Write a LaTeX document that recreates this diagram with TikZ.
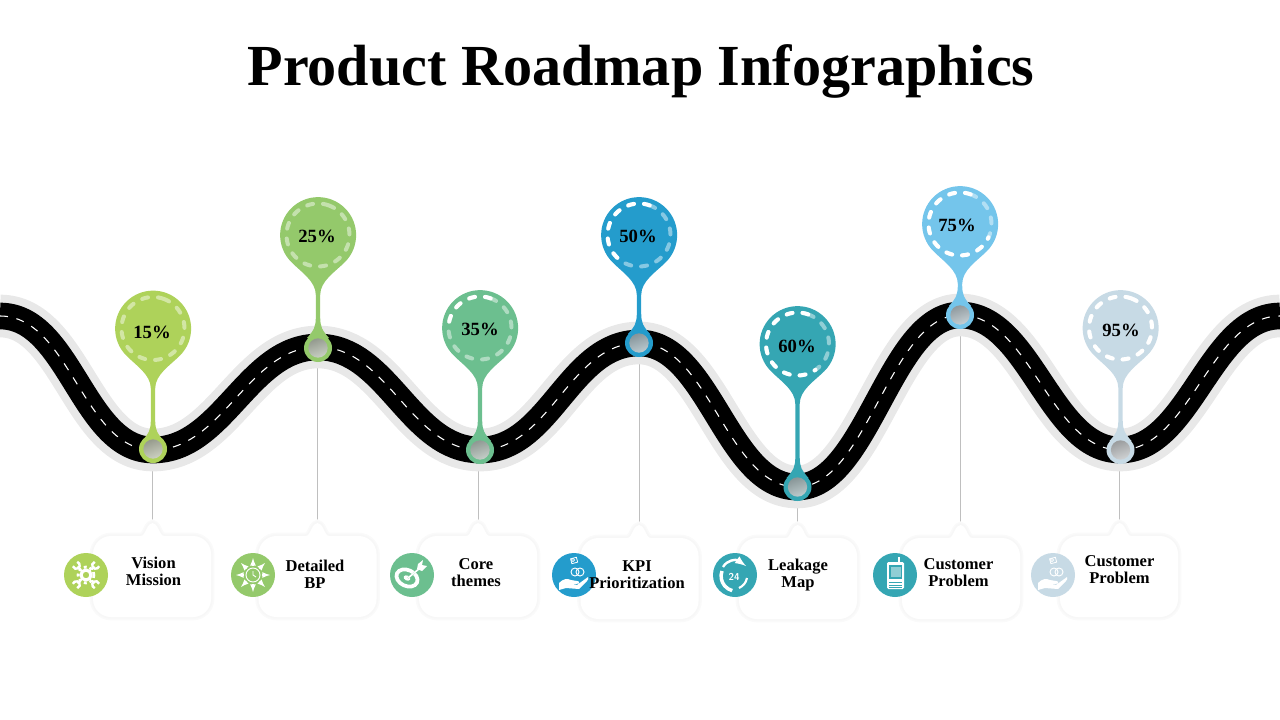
\documentclass[tikz,border=0pt]{standalone}
\usepackage{fontspec}
\setmainfont{Liberation Serif}
\usepackage{tikz}
\usetikzlibrary{backgrounds}

\definecolor{limeC}{RGB}{174,210,90}
\definecolor{grassC}{RGB}{148,201,107}
\definecolor{mintC}{RGB}{108,191,143}
\definecolor{oceanC}{RGB}{36,156,204}
\definecolor{tealC}{RGB}{53,166,179}
\definecolor{skyC}{RGB}{116,197,235}
\definecolor{mistC}{RGB}{199,218,229}

% x, head y, stop y, colour, bright sweep of the ring
\newcommand{\teardrop}[5]{
	\fill[#4] (#1+27,#2+27) arc[start angle=45,end angle=-225,radius=38]
		.. controls (#1-17,#2+37) and (#1-2.2,#2+46) .. (#1-2.2,#2+60) -- (#1-2.2,#3-30)
		.. controls (#1-2.2,#3-20) and (#1-4,#3-17) .. (#1-11,#3-9) -- (#1+11,#3-9)
		.. controls (#1+4,#3-17) and (#1+2.2,#3-20) .. (#1+2.2,#3-30) -- (#1+2.2,#2+60)
		.. controls (#1+2.2,#2+46) and (#1+17,#2+37) .. (#1+27,#2+27) -- cycle;
	\draw[ring,opacity=.45] (#1,#2) ++(-70:31.5) arc[start angle=-70,delta angle=-360,radius=31.5];
	\ifnum#5>0
		\draw[ring] (#1,#2) ++(-70:31.5) arc[start angle=-70,delta angle=-#5,radius=31.5];
	\fi
}
% id, left, top, tab x
\newcommand{\callout}[4]{
	\coordinate (tab#1) at (#4,#3-13);
	\path[calloutbox] (#2+18,#3) -- (#4-12,#3)
		.. controls (#4-9,#3) and (#4-8,#3-3) .. (#4-6,#3-7)
		.. controls (#4-4,#3-11) and (#4-2,#3-13) .. (#4,#3-13)
		.. controls (#4+2,#3-13) and (#4+4,#3-11) .. (#4+6,#3-7)
		.. controls (#4+8,#3-3) and (#4+9,#3) .. (#4+12,#3)
		-- (#2+100,#3) arc[start angle=-90,end angle=0,radius=18]
		-- (#2+118,#3+63) arc[start angle=0,end angle=90,radius=18]
		-- (#2+18,#3+81) arc[start angle=90,end angle=180,radius=18]
		-- (#2,#3+18) arc[start angle=180,end angle=270,radius=18] -- cycle;
}
% x, y, angle
\newcommand{\wrench}[3]{
	\begin{scope}[shift={(#1,#2)},rotate=#3]
		\draw[icon,line width=1.8pt] (8,0) -- (12,0);
		\draw[icon,line width=1.8pt] (15.5,3) arc[start angle=60,end angle=300,radius=3.5];
	\end{scope}
}
% x, y
\newcommand{\moneyhand}[2]{
	\begin{scope}[shift={(#1,#2)}]
		\fill[white] (-15,15) -- (-15,8) .. controls (-11,4) and (-7,3) .. (-3,5) -- (3,6)
			.. controls (6,6) and (6,9) .. (2,9) -- (-3,9) -- (3,10) -- (14,2)
			.. controls (15,3) and (14,5) .. (13,6) -- (5,14) -- (-8,13) -- cycle;
		\draw[white,line width=.7pt] (1,-3) circle [radius=4];
		\draw[white,line width=.7pt] (6,-3) circle [radius=4];
		\draw[white,line width=.6pt,rotate around={15:(0,-15)}] (-3,-17) rectangle (3,-12);
		\draw[white,line width=.6pt] (-1,-15) circle [radius=1.6];
	\end{scope}
}

\begin{document}
\begin{tikzpicture}[x=0.75pt,y=-0.75pt]
	\tikzstyle{ring}=[draw=white,line width=3pt,line cap=round,dash pattern=on 4.5pt off 7.5pt]
	\tikzstyle{stopdot}=[circle,minimum size=21pt,inner sep=0pt]
	\tikzstyle{stopcore}=[circle,minimum size=14.5pt,inner sep=0pt,opacity=.88,left color=black!42,right color=black!18,shading angle=20]
	\tikzstyle{pct}=[font=\fontsize{14}{16}\selectfont\bfseries,inner sep=0pt]
	\tikzstyle{tag}=[font=\fontsize{12.4}{12.75}\selectfont\bfseries,align=center,inner sep=0pt]
	\tikzstyle{badge}=[circle,minimum size=33pt,inner sep=0pt]
	\tikzstyle{icon}=[draw=white,line width=1pt]
	\tikzstyle{spoke}=[draw=white,line width=1pt,-latex]
	\tikzstyle{leader}=[draw=black!25,line width=.6pt]
	\tikzstyle{calloutbox}=[fill=white,preaction={draw=black!2,line width=5pt},preaction={draw=black!3,line width=2.4pt}]
	\useasboundingbox (0,0) rectangle (1280,720);

	\node[font=\fontsize{43.6}{48}\selectfont\bfseries,inner sep=0pt] (title) at (641,71) {Product Roadmap Infographics};

	\teardrop{153}{328.5}{450}{limeC}{0}
	\teardrop{318}{235}{347}{grassC}{0}
	\teardrop{480}{328}{450}{mintC}{115}
	\teardrop{639}{235}{343}{oceanC}{165}
	\teardrop{797.5}{344}{487}{tealC}{235}
	\teardrop{960}{224}{315}{skyC}{265}
	\teardrop{1120.5}{328}{450}{mistC}{360}

	\node[pct] (pct1) at (152,332) {15\%};
	\node[pct] (pct2) at (317,236) {25\%};
	\node[pct] (pct3) at (480,329) {35\%};
	\node[pct] (pct4) at (638,236) {50\%};
	\node[pct] (pct5) at (797,346) {60\%};
	\node[pct] (pct6) at (957,225) {75\%};
	\node[pct] (pct7) at (1121,330) {95\%};

	\node[stopdot,fill=limeC] (stop1) at (153,449) {};
	\node[stopdot,fill=grassC] (stop2) at (318,348) {};
	\node[stopdot,fill=mintC] (stop3) at (480,450) {};
	\node[stopdot,fill=oceanC] (stop4) at (639,343) {};
	\node[stopdot,fill=tealC] (stop5) at (797.5,487) {};
	\node[stopdot,fill=skyC] (stop6) at (960,315) {};
	\node[stopdot,fill=mistC] (stop7) at (1120.5,450) {};
	\node[stopcore] (core1) at (stop1) {};
	\node[stopcore] (core2) at (stop2) {};
	\node[stopcore] (core3) at (stop3) {};
	\node[stopcore] (core4) at (stop4) {};
	\node[stopcore] (core5) at (stop5) {};
	\node[stopcore] (core6) at (stop6) {};
	\node[stopcore] (core7) at (stop7) {};

	\callout{1}{93}{536}{152.5}
	\callout{2}{258.5}{536}{317.5}
	\callout{3}{419}{536}{478}
	\callout{4}{580.5}{538}{639}
	\callout{5}{739}{538}{797.5}
	\callout{6}{902}{538}{960.5}
	\callout{7}{1060}{536}{1119.5}

	\node[badge,fill=limeC] (badge1) at (86,575) {};
	\node[badge,fill=grassC] (badge2) at (253,575) {};
	\node[badge,fill=mintC] (badge3) at (412,575) {};
	\node[badge,fill=oceanC] (badge4) at (574,575) {};
	\node[badge,fill=tealC] (badge5) at (735,575) {};
	\node[badge,fill=tealC] (badge6) at (895,575) {};
	\node[badge,fill=mistC] (badge7) at (1053,575) {};

	% gear and wrenches
	\draw[icon,line width=2.4pt] (86,575) circle [radius=5];
	\draw[icon,line width=2pt,dash pattern=on 2.2pt off 2.2pt] (86,575) circle [radius=8];
	\wrench{86}{575}{45}
	\wrench{86}{575}{135}
	\wrench{86}{575}{225}
	\wrench{86}{575}{315}

	% clock and arrows
	\draw[icon,line width=.7pt] (253,575) circle [radius=7];
	\draw[icon,line width=.7pt] (253,571) -- (253,575) -- (256,577);
	\draw[spoke] (253,566) -- (253,558);
	\draw[spoke] (253,584) -- (253,592);
	\draw[spoke] (244,575) -- (236,575);
	\draw[spoke] (262,575) -- (270,575);
	\draw[spoke] (259.5,568.5) -- (265,563);
	\draw[spoke] (246.5,568.5) -- (241,563);
	\draw[spoke] (259.5,581.5) -- (265,587);
	\draw[spoke] (246.5,581.5) -- (241,587);

	% target
	\draw[icon,line width=2.8pt,rotate around={-25:(407,578)}] (407,578) ellipse [x radius=11,y radius=8];
	\fill[white,rotate around={-25:(407,578)}] (407,578) ellipse [x radius=3.5,y radius=2.5];
	\draw[draw=mintC,line width=1.2pt] (408,578) -- (420,568);
	\draw[icon,line width=1.2pt] (408,578) -- (420,568);
	\fill[white] (417,569) -- (418,564) -- (423,560) -- (422,565) -- (427,566) -- (422,571) -- cycle;

	% money in hand
	\moneyhand{574}{575}
	\moneyhand{1053}{575}

	% phone 24
	\draw[icon,line width=2.6pt] (722,571) arc[start angle=200,end angle=105,radius=15];
	\draw[icon,line width=1.8pt,-latex] (723,567) .. controls (727,560) and (736,559) .. (746,566);
	\draw[icon,line width=1.6pt] (747,578) .. controls (746,583) and (743,586) .. (739,588);
	\node[font=\fontsize{7.5}{8}\selectfont\sffamily\bfseries,text=white,inner sep=0pt] (num24) at (734,577) {24};

	% mobile
	\draw[icon,line width=1pt] (899,562) -- (899,557);
	\fill[white,rounded corners=1pt] (887,562) rectangle (904,589);
	\fill[tealC] (889,565) rectangle (902,579);
	\fill[white,opacity=.45] (890.5,567) rectangle (900.5,577);
	\draw[draw=tealC,line width=.5pt] (889,582) -- (902,582);
	\draw[draw=tealC,line width=.5pt] (889,585) -- (902,585);
	\draw[draw=tealC,line width=.5pt] (889,587.5) -- (902,587.5);

	\node[tag] (lab1) at (153.5,571) {Vision\\Mission};
	\node[tag] (lab2) at (315,574) {Detailed\\BP};
	\node[tag] (lab3) at (476,573) {Core\\themes};
	\node[tag] (lab4) at (637,575) {KPI\\Prioritization};
	\node[tag] (lab5) at (798,575) {Leakage\\Map};
	\node[tag] (lab6) at (958.5,573) {Customer\\Problem};
	\node[tag] (lab7) at (1119.5,570) {Customer\\Problem};

	\begin{pgfonlayer}{background}
		\draw[leader] (tab1) -- (tab1 |- stop1);
		\draw[leader] (tab2) -- (tab2 |- stop2);
		\draw[leader] (tab3) -- (tab3 |- stop3);
		\draw[leader] (tab4) -- (tab4 |- stop4);
		\draw[leader] (tab5) -- (tab5 |- stop5);
		\draw[leader] (tab6) -- (tab6 |- stop6);
		\draw[leader] (tab7) -- (tab7 |- stop7);
		% road: halo, tarmac, centre line
		\draw[draw=black!9,line width=32pt] (0,316)
			.. controls +(70,0) and +(-70,0) .. (153,450)
			.. controls +(70,0) and +(-70,0) .. (318,347)
			.. controls +(70,0) and +(-70,0) .. (480,450)
			.. controls +(70,0) and +(-70,0) .. (639,343)
			.. controls +(70,0) and +(-70,0) .. (797,487)
			.. controls +(70,0) and +(-70,0) .. (960,315)
			.. controls +(70,0) and +(-70,0) .. (1120,450)
			.. controls +(70,0) and +(-70,0) .. (1280,316);
		\draw[draw=black,line width=20pt] (0,316)
			.. controls +(70,0) and +(-70,0) .. (153,450)
			.. controls +(70,0) and +(-70,0) .. (318,347)
			.. controls +(70,0) and +(-70,0) .. (480,450)
			.. controls +(70,0) and +(-70,0) .. (639,343)
			.. controls +(70,0) and +(-70,0) .. (797,487)
			.. controls +(70,0) and +(-70,0) .. (960,315)
			.. controls +(70,0) and +(-70,0) .. (1120,450)
			.. controls +(70,0) and +(-70,0) .. (1280,316);
		\draw[draw=white,line width=.8pt,dash pattern=on 6pt off 6.5pt] (0,316)
			.. controls +(70,0) and +(-70,0) .. (153,450)
			.. controls +(70,0) and +(-70,0) .. (318,347)
			.. controls +(70,0) and +(-70,0) .. (480,450)
			.. controls +(70,0) and +(-70,0) .. (639,343)
			.. controls +(70,0) and +(-70,0) .. (797,487)
			.. controls +(70,0) and +(-70,0) .. (960,315)
			.. controls +(70,0) and +(-70,0) .. (1120,450)
			.. controls +(70,0) and +(-70,0) .. (1280,316);
	\end{pgfonlayer}
\end{tikzpicture}
\end{document}
